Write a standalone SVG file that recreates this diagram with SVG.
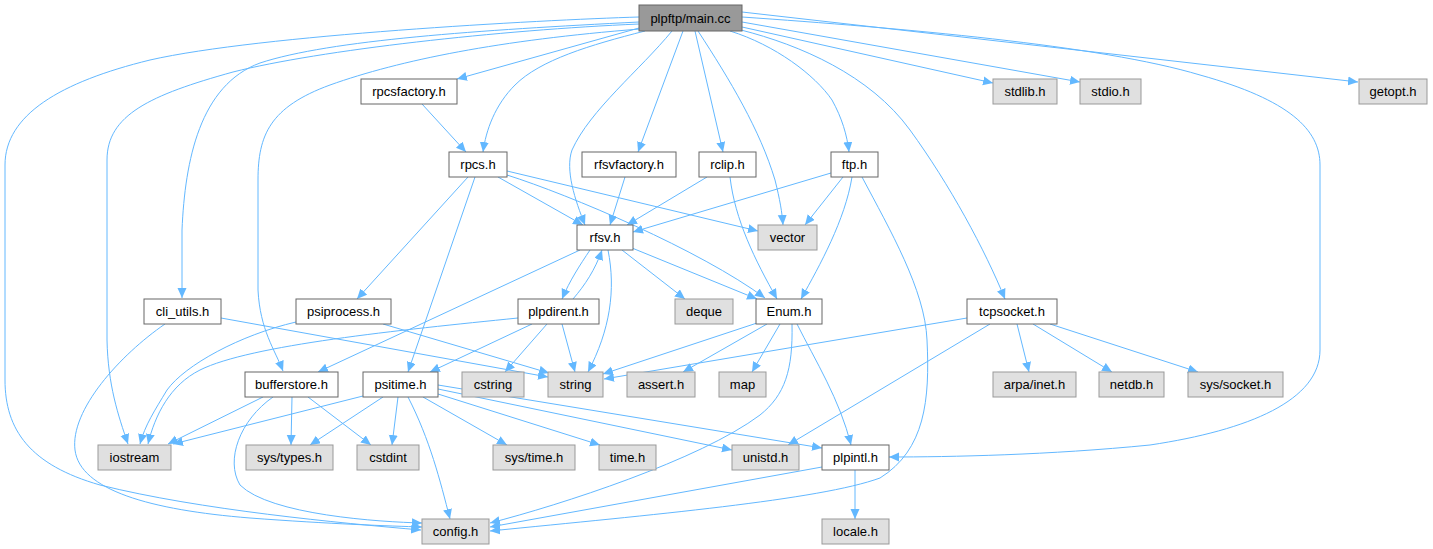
<svg xmlns="http://www.w3.org/2000/svg" width="1433" height="549" viewBox="0 0 1433 549">
<defs>
<style>
rect{stroke-width:1}
.n rect{fill:#ffffff;stroke:#666666}
.x rect{fill:#e0e0e0;stroke:#999999}
.r rect{fill:#999999;stroke:#666666}
text{font-family:"Liberation Sans",Arial,Helvetica,sans-serif;font-size:13px;fill:#000000;text-anchor:middle}
#edges path{fill:none;stroke:#63b8ff;stroke-width:1;marker-end:url(#ah)}
</style>
<marker id="ah" markerUnits="userSpaceOnUse" markerWidth="11" markerHeight="10" refX="10" refY="4.5" orient="auto">
<path d="M0,0 L10,4.5 L0,9 z" fill="#63b8ff"/>
</marker>
</defs>
<rect width="1433" height="549" fill="#ffffff"/>
<g id="edges">
<path d="M639,17 C540,20 260,35 150,60 C60,82 5,115 5,165 L5,380 C5,430 30,465 100,485 C200,510 340,523 421,530"/>
<path d="M639,24 C500,30 320,50 233,72 C150,95 107,115 107,160 L107,340 C108,385 118,415 128,444"/>
<path d="M639,22 C480,30 330,40 260,63 C200,85 185,160 182,230 L182,298"/>
<path d="M640,29 C500,40 400,60 330,85 C270,107 258,135 258,180 L258,290 C260,330 275,350 283,371"/>
<path d="M639,28 L457,79"/>
<path d="M645,31 C590,45 540,60 515,85 C495,105 486,130 483,152"/>
<path d="M672,31 C640,70 590,110 572,150 C565,170 575,200 585,225"/>
<path d="M683,31 L638,152"/>
<path d="M695,31 L723,152"/>
<path d="M698,31 C730,80 760,130 775,180 C780,200 782,212 783,225"/>
<path d="M730,31 C775,45 815,75 832,100 C842,118 847,135 849,152"/>
<path d="M741,30 C800,45 870,75 910,130 C950,185 985,250 1005,299"/>
<path d="M742,27 L993,83"/>
<path d="M742,22 L1080,82"/>
<path d="M742,12 L1358,82"/>
<path d="M742,17 C900,28 1100,45 1200,75 C1290,100 1320,130 1320,165 L1320,350 C1320,400 1250,430 1150,445 C1050,455 950,457 889,457"/>
<path d="M422,104 L466,152"/>
<path d="M468,177 L357,299"/>
<path d="M475,177 L408,372"/>
<path d="M498,177 L583,225"/>
<path d="M507,175 C570,195 700,250 765,298"/>
<path d="M507,171 L758,231"/>
<path d="M625,177 L610,225"/>
<path d="M707,177 L627,225"/>
<path d="M730,177 C735,220 755,260 777,299"/>
<path d="M831,173 L633,232"/>
<path d="M843,177 L805,225"/>
<path d="M852,177 C845,220 820,265 801,299"/>
<path d="M862,177 C890,230 925,290 927,340 C930,400 925,450 880,478 C820,500 650,515 490,531"/>
<path d="M590,250 C580,265 570,280 562,299"/>
<path d="M573,299 C585,285 595,270 602,250"/>
<path d="M580,250 L318,372"/>
<path d="M608,250 C616,290 610,330 588,372"/>
<path d="M622,250 L685,299"/>
<path d="M632,248 L757,299"/>
<path d="M221,318 L548,377"/>
<path d="M165,324 C120,355 70,410 75,450 C80,490 150,510 250,518 C330,524 390,526 422,527"/>
<path d="M296,322 C240,335 185,365 167,390 C155,410 145,425 140,444"/>
<path d="M383,324 L549,373"/>
<path d="M518,318 C400,330 250,345 200,370 C170,385 155,415 148,444"/>
<path d="M532,324 L430,372"/>
<path d="M547,324 L505,372"/>
<path d="M562,324 L575,372"/>
<path d="M757,323 L603,374"/>
<path d="M767,324 L683,372"/>
<path d="M780,324 L752,372"/>
<path d="M797,324 C815,360 840,400 851,445"/>
<path d="M792,324 C793,370 785,395 760,415 C700,460 560,505 490,523"/>
<path d="M967,318 L604,379"/>
<path d="M990,324 L788,445"/>
<path d="M1017,324 L1029,372"/>
<path d="M1033,324 L1112,372"/>
<path d="M1050,324 L1198,372"/>
<path d="M263,397 L168,444"/>
<path d="M292,397 L291,445"/>
<path d="M308,397 L371,445"/>
<path d="M273,397 C240,420 225,460 240,485 C270,515 380,522 422,523"/>
<path d="M363,396 L173,444"/>
<path d="M383,397 L310,445"/>
<path d="M398,397 L392,445"/>
<path d="M408,397 C430,440 440,480 450,519"/>
<path d="M423,397 L507,445"/>
<path d="M438,394 L600,445"/>
<path d="M438,389 L732,450"/>
<path d="M438,385 L822,448"/>
<path d="M822,467 L490,527"/>
<path d="M855,470 L855,519"/>
</g>
<g id="n_main" class="r"><rect x="639" y="5" width="103" height="26"/><text x="690.5" y="22.5">plpftp/main.cc</text></g>
<g id="n_rpcsfactory" class="n"><rect x="361" y="79" width="96" height="25"/><text x="409" y="96">rpcsfactory.h</text></g>
<g id="n_stdlib" class="x"><rect x="993" y="79" width="64" height="25"/><text x="1025" y="96">stdlib.h</text></g>
<g id="n_stdio" class="x"><rect x="1080" y="79" width="61" height="25"/><text x="1110.5" y="96">stdio.h</text></g>
<g id="n_getopt" class="x"><rect x="1359" y="79" width="68" height="25"/><text x="1393" y="96">getopt.h</text></g>
<g id="n_rpcs" class="n"><rect x="449" y="152" width="58" height="25"/><text x="478" y="169">rpcs.h</text></g>
<g id="n_rfsvfactory" class="n"><rect x="582" y="152" width="94" height="25"/><text x="629" y="169">rfsvfactory.h</text></g>
<g id="n_rclip" class="n"><rect x="699" y="152" width="57" height="25"/><text x="727.5" y="169">rclip.h</text></g>
<g id="n_ftp" class="n"><rect x="831" y="152" width="47" height="25"/><text x="854.5" y="169">ftp.h</text></g>
<g id="n_rfsv" class="n"><rect x="577" y="225" width="56" height="25"/><text x="605" y="242">rfsv.h</text></g>
<g id="n_vector" class="x"><rect x="758" y="225" width="59" height="25"/><text x="787.5" y="242">vector</text></g>
<g id="n_cli_utils" class="n"><rect x="144" y="299" width="77" height="25"/><text x="182.5" y="316">cli_utils.h</text></g>
<g id="n_psiprocess" class="n"><rect x="296" y="299" width="95" height="25"/><text x="343.5" y="316">psiprocess.h</text></g>
<g id="n_plpdirent" class="n"><rect x="518" y="299" width="81" height="25"/><text x="558.5" y="316">plpdirent.h</text></g>
<g id="n_deque" class="x"><rect x="675" y="299" width="58" height="25"/><text x="704" y="316">deque</text></g>
<g id="n_enum" class="n"><rect x="756" y="299" width="66" height="25"/><text x="789" y="316">Enum.h</text></g>
<g id="n_tcpsocket" class="n"><rect x="967" y="299" width="90" height="25"/><text x="1012" y="316">tcpsocket.h</text></g>
<g id="n_bufferstore" class="n"><rect x="245" y="372" width="93" height="25"/><text x="291.5" y="389">bufferstore.h</text></g>
<g id="n_psitime" class="n"><rect x="363" y="372" width="75" height="25"/><text x="400.5" y="389">psitime.h</text></g>
<g id="n_cstring" class="x"><rect x="462" y="372" width="62" height="25"/><text x="493" y="389">cstring</text></g>
<g id="n_string" class="x"><rect x="548" y="372" width="55" height="25"/><text x="575.5" y="389">string</text></g>
<g id="n_assert" class="x"><rect x="627" y="372" width="68" height="25"/><text x="661" y="389">assert.h</text></g>
<g id="n_map" class="x"><rect x="719" y="372" width="47" height="25"/><text x="742.5" y="389">map</text></g>
<g id="n_arpa" class="x"><rect x="993" y="372" width="83" height="25"/><text x="1034.5" y="389">arpa/inet.h</text></g>
<g id="n_netdb" class="x"><rect x="1099" y="372" width="65" height="25"/><text x="1131.5" y="389">netdb.h</text></g>
<g id="n_syssocket" class="x"><rect x="1188" y="372" width="95" height="25"/><text x="1235.5" y="389">sys/socket.h</text></g>
<g id="n_iostream" class="x"><rect x="98" y="445" width="73" height="25"/><text x="134.5" y="462">iostream</text></g>
<g id="n_systypes" class="x"><rect x="246" y="445" width="87" height="25"/><text x="289.5" y="462">sys/types.h</text></g>
<g id="n_cstdint" class="x"><rect x="357" y="445" width="62" height="25"/><text x="388" y="462">cstdint</text></g>
<g id="n_systime" class="x"><rect x="493" y="445" width="82" height="25"/><text x="534" y="462">sys/time.h</text></g>
<g id="n_time" class="x"><rect x="599" y="445" width="57" height="25"/><text x="627.5" y="462">time.h</text></g>
<g id="n_unistd" class="x"><rect x="732" y="445" width="67" height="25"/><text x="765.5" y="462">unistd.h</text></g>
<g id="n_plpintl" class="n"><rect x="822" y="445" width="67" height="25"/><text x="855.5" y="462">plpintl.h</text></g>
<g id="n_config" class="x"><rect x="422" y="519" width="67" height="25"/><text x="455.5" y="536">config.h</text></g>
<g id="n_locale" class="x"><rect x="822" y="519" width="67" height="25"/><text x="855.5" y="536">locale.h</text></g>
</svg>
